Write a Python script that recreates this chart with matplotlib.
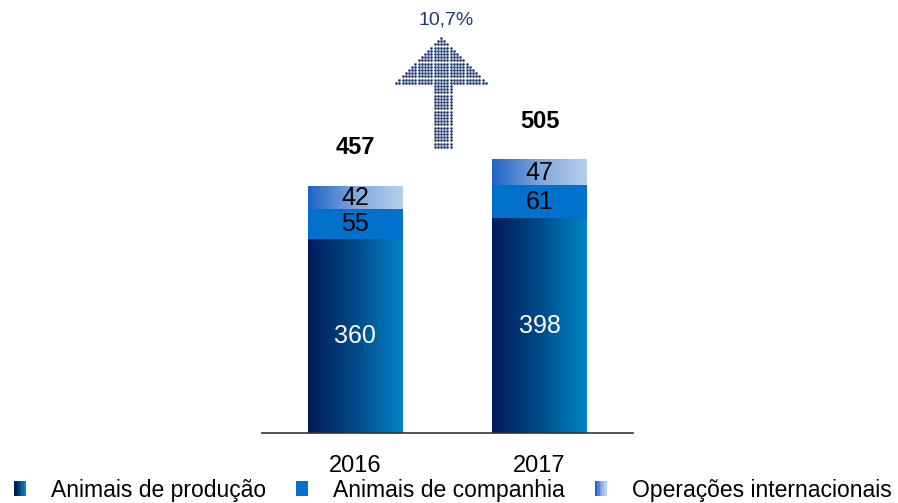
import numpy as np
import matplotlib.pyplot as plt
from matplotlib.colors import LinearSegmentedColormap
from matplotlib.patches import Rectangle
from matplotlib.path import Path
from matplotlib.legend_handler import HandlerTuple

years = ['2016', '2017']
producao = [360, 398]
companhia = [55, 61]
internacionais = [42, 47]
totais = [457, 505]
series_names = ['Animais de produção', 'Animais de companhia', 'Operações internacionais']
growth_label = '10,7%'

plt.rcParams['font.family'] = ['Liberation Sans', 'DejaVu Sans']

grad_prod = LinearSegmentedColormap.from_list('prod', ['#001C58', '#004A87', '#0084C8'])
grad_comp = LinearSegmentedColormap.from_list('comp', ['#0071CC', '#0071CC'])
grad_int = LinearSegmentedColormap.from_list('int', ['#1E64C6', '#7FA6DD', '#B5D0EC'])

fig = plt.figure(figsize=(8.98, 5.03), dpi=100)
ax = fig.add_axes([262 / 898, 70 / 503, 371 / 898, 433 / 503])

x = np.arange(len(years))
width = 0.51
bottoms = np.zeros(len(years))
layers = [(producao, grad_prod, 'white'), (companhia, grad_comp, 'black'),
          (internacionais, grad_int, 'black')]
grad = np.linspace(0, 1, 256).reshape(1, -1)
for vals, cmap, tcol in layers:
    bars = ax.bar(x, vals, width, bottom=bottoms, color='none', linewidth=0)
    for b, v in zip(bars, vals):
        x0, y0 = b.get_x(), b.get_y()
        ax.imshow(grad, cmap=cmap, aspect='auto', zorder=1,
                  extent=[x0, x0 + b.get_width(), y0, y0 + b.get_height()])
        ax.text(x0 + b.get_width() / 2, y0 + v / 2, str(v), ha='center', va='center',
                fontsize=18, color=tcol, zorder=3)
    bottoms = bottoms + np.array(vals)

for xi, t in zip(x, totais):
    ax.annotate(str(t), (xi, t), xytext=(0, 28), textcoords='offset points',
                ha='center', va='center', fontsize=17, fontweight='bold')

ax.set_xlim(-0.505, 1.507)
ax.set_ylim(0, 803)
ax.set_xticks(x)
ax.set_xticklabels(years, fontsize=17)
ax.tick_params(axis='x', length=0, pad=16)
ax.set_yticks([])
for s in ['left', 'right', 'top']:
    ax.spines[s].set_visible(False)
ax.spines['bottom'].set_color('#333333')
ax.spines['bottom'].set_linewidth(1.2)
ax.spines['bottom'].set_zorder(4)

# dotted growth arrow (decoration, pixel coords)
ov = fig.add_axes([0, 0, 1, 1], facecolor='none')
ov.set_xlim(0, 898)
ov.set_ylim(503, 0)
ov.axis('off')
arrow = Path([(441, 38), (486, 83), (451, 83), (451, 147), (432, 147),
              (432, 83), (396, 83), (441, 38)])
gx, gy = np.meshgrid(np.arange(393, 490, 3.2), np.arange(38, 149, 3.2))
pts = np.column_stack([gx.ravel(), gy.ravel()])
inside = pts[arrow.contains_points(pts, radius=0.8)]
ov.scatter(inside[:, 0], inside[:, 1], s=3.6, color='#1F3A6E', linewidths=0)
ov.text(446, 20, growth_label, ha='center', va='center', fontsize=14, color='#1F3A6E')

def strips(cmap, n=5):
    return tuple(Rectangle((0, 0), 1, 1, color=cmap(i / (n - 1)), linewidth=0) for i in range(n))

handles = [strips(grad_prod), strips(grad_comp), strips(grad_int)]
fig.legend(handles, series_names, loc='center', bbox_to_anchor=(453 / 898, 1 - 490 / 503), ncol=3,
           frameon=False, fontsize=16.5, handlelength=0.52, handleheight=0.6,
           handletextpad=1.1, columnspacing=1.3, borderpad=0, borderaxespad=0,
           handler_map={tuple: HandlerTuple(ndivide=None, pad=0)})

fig.savefig('out.png', dpi=100)
